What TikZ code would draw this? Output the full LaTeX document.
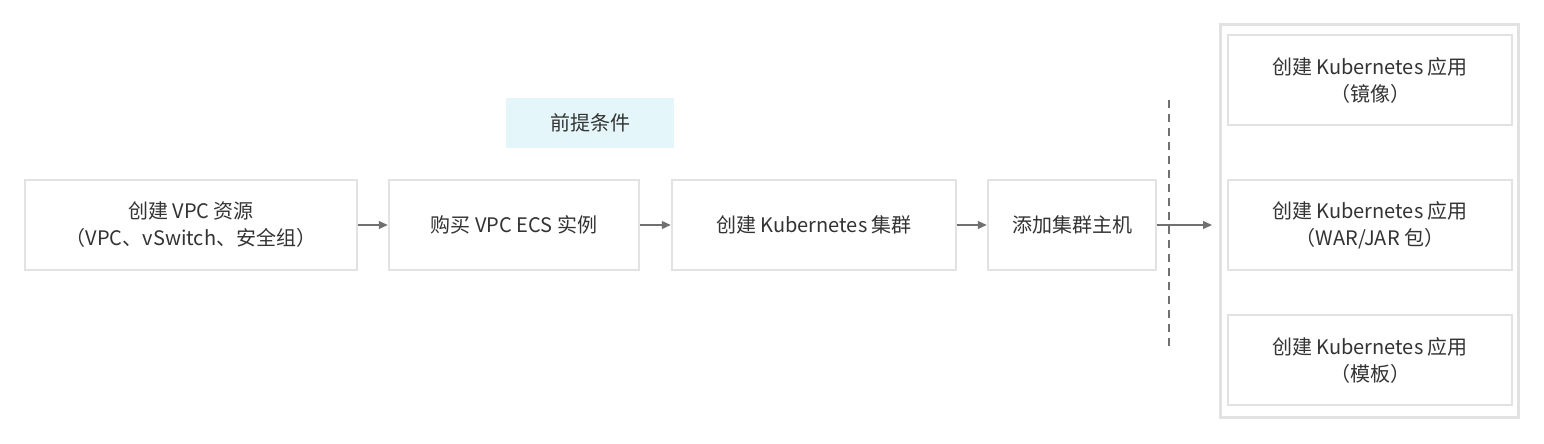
\documentclass[tikz,border=0pt]{standalone}
\usepackage{fontspec}
\setmainfont{Noto Sans CJK SC}
\usetikzlibrary{arrows.meta}
\definecolor{txt}{HTML}{333333}
\definecolor{arr}{HTML}{707070}
\definecolor{sh}{HTML}{E2E2E2}
\definecolor{cy}{HTML}{E5F6FA}
\tikzset{
  box/.style={draw=sh, line width=2.5pt, fill=white, text=txt, align=center, font=\fontsize{20}{27}\selectfont, inner sep=0pt},
  conn/.style={draw=arr, line width=1.3pt, -{Triangle[length=9pt,width=8pt]}}
}
\newcommand{\bx}[6]{\node[box, minimum width=#4-#2, minimum height=#5-#3] (#1) at ({(#2+#4)/2},{(#3+#5)/2}) {#6};}
\begin{document}
\begin{tikzpicture}[x=1pt,y=-1pt]
\useasboundingbox (0,0) rectangle (1544,444);
\node[draw=sh, line width=3pt, fill=white, minimum width=298, minimum height=392, inner sep=0pt] (outer) at (1369,221) {};
\bx{b1}{25}{180}{357}{270}{创建 VPC 资源\\（VPC、vSwitch、安全组）}
\bx{b2}{389}{180}{639}{270}{购买 VPC ECS 实例}
\bx{b3}{672}{180}{956}{270}{创建 Kubernetes 集群}
\bx{b4}{988}{180}{1156}{270}{添加集群主机}
\bx{r1}{1228}{35}{1512}{125}{创建 Kubernetes 应用\\（镜像）}
\bx{r2}{1228}{180}{1512}{270}{创建 Kubernetes 应用\\（WAR/JAR 包）}
\bx{r3}{1228}{315}{1512}{405}{创建 Kubernetes 应用\\（模板）}
\node[fill=cy, text=txt, font=\fontsize{20}{24}\selectfont, minimum width=168, minimum height=50, inner sep=0pt] (pre) at (590,123) {前提条件};
\coordinate (d1) at (1169,100);
\coordinate (d2) at (1169,350);
\draw[arr, line width=1.3pt, dash pattern=on 8pt off 6pt] (d1) -- (d2);
\coordinate (t) at (1212,225);
\draw[conn] (b1) -- (b2);
\draw[conn] (b2) -- (b3);
\draw[conn] (b3) -- (b4);
\draw[conn] (b4) -- (t);
\end{tikzpicture}
\end{document}
